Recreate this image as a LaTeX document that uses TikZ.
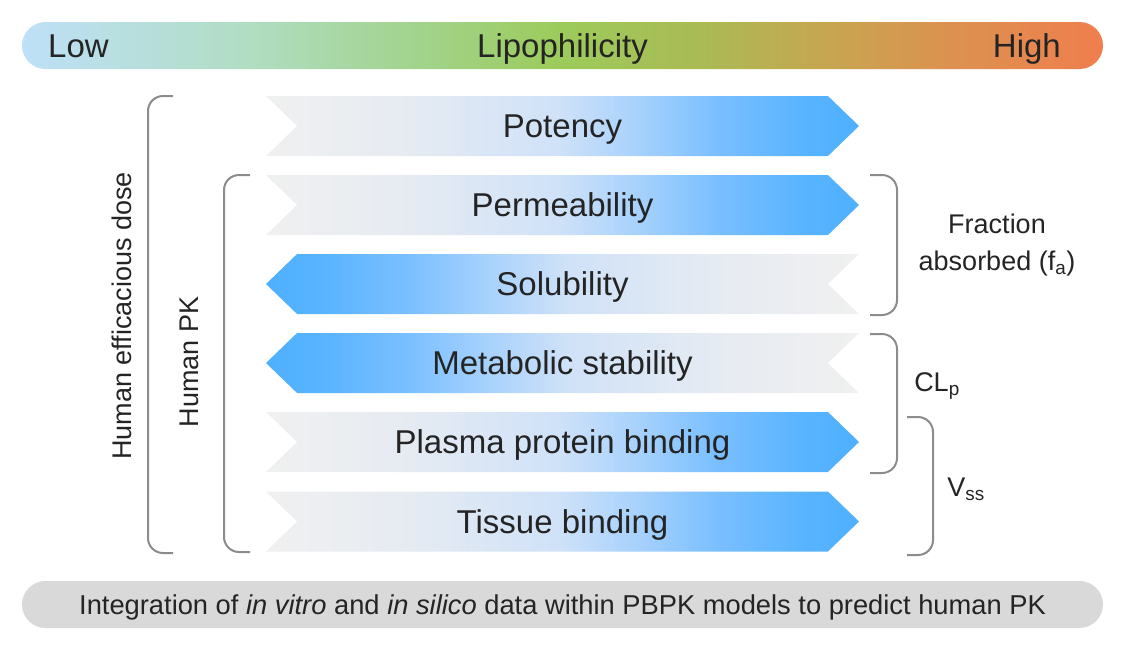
\documentclass[tikz,border=0pt]{standalone}
\usepackage{fontspec}
\setmainfont{Liberation Sans}
\usetikzlibrary{shapes.symbols,positioning}

\definecolor{inkgray}{HTML}{242424}
\definecolor{bracegray}{HTML}{8C8C8C}
\definecolor{barback}{HTML}{D9D9D9}
% Lipophilicity colours
\definecolor{lipoA}{HTML}{BEE0F8}
\definecolor{lipoB}{HTML}{B1DDC2}
\definecolor{lipoC}{HTML}{A3D492}
\definecolor{lipoD}{HTML}{9CCB5A}
\definecolor{lipoE}{HTML}{AABA55}
\definecolor{lipoF}{HTML}{C8A550}
\definecolor{lipoG}{HTML}{DC9150}
\definecolor{lipoH}{HTML}{F07E4E}
% Arrow colours
\definecolor{pkgray}{HTML}{F0F0F0}
\definecolor{pkmist}{HTML}{E6EBF2}
\definecolor{pkpale}{HTML}{D0E2F8}
\definecolor{pksky}{HTML}{A6D1FC}
\definecolor{pkmid}{HTML}{7ABFFF}
\definecolor{pkdeep}{HTML}{5AB4FF}
\definecolor{pkblue}{HTML}{4DB0FF}

\pgfdeclarehorizontalshading{liposhade}{100bp}{color(0bp)=(lipoA); color(25bp)=(lipoA);
  color(35.5bp)=(lipoB); color(42.5bp)=(lipoC); color(50bp)=(lipoD); color(56.5bp)=(lipoE);
  color(62.5bp)=(lipoF); color(68bp)=(lipoG); color(75bp)=(lipoH); color(100bp)=(lipoH)}
\pgfdeclarehorizontalshading{riseshade}{100bp}{color(0bp)=(pkgray); color(25bp)=(pkgray);
  color(37bp)=(pkmist); color(49.5bp)=(pkpale); color(56.5bp)=(pksky); color(63bp)=(pkmid);
  color(70bp)=(pkdeep); color(75bp)=(pkblue); color(100bp)=(pkblue)}

\tikzset{
  bartext/.style={font=\fontsize{33}{38}\selectfont, text=inkgray, inner sep=0pt,
    text height=23.5pt, text depth=0pt},
  lipobar/.style={bartext, shade, shading=liposhade, rounded corners=23.5pt,
    minimum width=1081pt, minimum height=47pt},
  pbpkbar/.style={fill=barback, rounded corners=23.5pt, minimum width=1081pt,
    minimum height=47pt, inner sep=0pt, font=\fontsize{27.3}{32}\selectfont, text=inkgray,
    text height=19.5pt, text depth=0pt},
  property/.style={signal, signal pointer angle=88, minimum width=593pt, minimum height=60pt,
    inner sep=0pt, font=\fontsize{33}{38}\selectfont, text=inkgray, shade, shading=riseshade,
    text height=23.5pt, text depth=0pt},
  rise/.style={property, signal to=east, signal from=west},
  fall/.style={property, signal to=west, signal from=east, shading angle=180},
  pkbrace/.style={draw=bracegray, line width=2pt, rounded corners=15pt},
  sidelabel/.style={font=\fontsize{27}{37}\selectfont, text=inkgray}
}

\begin{document}
\begin{tikzpicture}[x=1pt, y=-1pt]
    \useasboundingbox (0,0) rectangle (1129,651);
    % Bars
    \node (lipo) [lipobar] at (562.5,45.5) {Lipophilicity};
    \node (low) [bartext, anchor=west] at (48,45.5) {Low};
    \node (high) [bartext, anchor=east] at (1061,45.5) {High};
    \node (pbpk) [pbpkbar] at (562.5,604.5)
        {Integration of \textit{in vitro} and \textit{in silico} data within PBPK models to predict human PK};

    % Properties
    \node (potency) [rise] at (562.5,126) {Potency};
    \node (permeability) [rise] at (562.5,205) {Permeability};
    \node (solubility) [fall] at (562.5,284) {Solubility};
    \node (metabolic) [fall] at (562.5,363) {Metabolic stability};
    \node (plasma) [rise] at (562.5,442) {Plasma protein binding};
    \node (tissue) [rise] at (562.5,521.5) {Tissue binding};

    % Braces
    \draw [pkbrace] (173,96) -- (148,96) -- (148,553) -- (173,553);
    \draw [pkbrace] (250,175) -- (224,175) -- (224,552) -- (250,552);
    \draw [pkbrace] (870,175) -- (897,175) -- (897,315) -- (870,315);
    \draw [pkbrace] (870,334) -- (897,334) -- (897,473) -- (870,473);
    \draw [pkbrace] (907,417) -- (933,417) -- (933,555) -- (907,555);

    % Labels
    \node (dose) [sidelabel, rotate=90] at (122,316) {Human efficacious dose};
    \node (humanpk) [sidelabel, rotate=90] at (189,362) {Human PK};
    \node (fa) [sidelabel, align=center] at (997,245) {Fraction\\absorbed (f\textsubscript{a})};
    \node (clp) [sidelabel] at (937,386) {CL\textsubscript{p}};
    \node (vss) [sidelabel] at (966,489) {V\textsubscript{ss}};
\end{tikzpicture}
\end{document}
